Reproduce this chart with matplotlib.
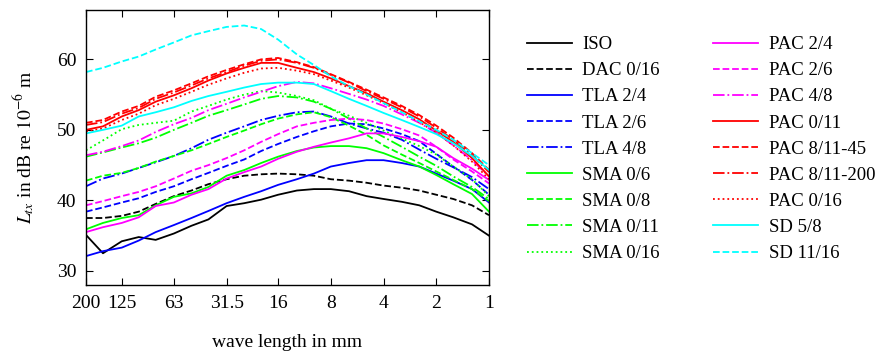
"""Texture level spectra of road surfaces vs. wave length."""
import numpy as np
import matplotlib.pyplot as plt
import matplotlib as mpl
from matplotlib.ticker import FixedLocator, FixedFormatter, NullLocator

mpl.rcParams.update({'font.family': 'Liberation Serif', 'font.size': 14,
                     'mathtext.fontset': 'stix'})

# third-octave band centre wave lengths in mm
wavelength = [200, 160, 125, 100, 80, 63, 50, 40, 31.5, 25, 20, 16,
              12.5, 10, 8, 6.3, 5, 4, 3.15, 2.5, 2, 1.6, 1.25, 1]

iso       = [35.1, 32.5, 34.2, 34.8, 34.4, 35.3, 36.4, 37.3, 39.2, 39.6, 40.1, 40.8,
             41.4, 41.6, 41.6, 41.3, 40.6, 40.2, 39.8, 39.3, 38.4, 37.6, 36.6, 35.0]
dac_0_16  = [37.5, 37.5, 37.8, 38.4, 39.5, 40.6, 41.4, 42.3, 43.0, 43.5, 43.7, 43.8,
             43.7, 43.5, 43.0, 42.8, 42.5, 42.1, 41.8, 41.4, 40.8, 40.2, 39.3, 37.9]
tla_2_4   = [32.1, 32.8, 33.3, 34.3, 35.5, 36.5, 37.5, 38.5, 39.6, 40.5, 41.3, 42.2,
             43.0, 43.8, 44.8, 45.3, 45.7, 45.7, 45.3, 44.8, 43.8, 42.8, 41.6, 39.7]
tla_2_6   = [38.4, 39.0, 39.7, 40.3, 41.2, 42.0, 43.0, 43.9, 44.9, 45.8, 47.0, 48.0,
             49.0, 49.8, 50.5, 50.9, 50.8, 50.2, 49.4, 48.4, 46.6, 44.8, 42.9, 40.8]
tla_4_8   = [42.0, 43.1, 43.8, 44.6, 45.4, 46.3, 47.4, 48.6, 49.6, 50.5, 51.4, 52.0,
             52.5, 52.6, 51.9, 50.9, 50.2, 49.6, 48.6, 47.2, 45.9, 44.7, 43.3, 41.6]
sma_0_6   = [35.9, 36.8, 37.5, 37.9, 39.3, 40.5, 41.0, 41.9, 43.5, 44.3, 45.3, 46.2,
             47.0, 47.5, 47.7, 47.7, 47.4, 46.7, 45.7, 44.8, 43.6, 42.3, 40.9, 38.4]
sma_0_8   = [42.8, 43.5, 43.9, 44.6, 45.5, 46.3, 47.1, 48.0, 49.0, 49.9, 50.8, 51.6,
             52.2, 52.5, 51.8, 50.6, 49.3, 47.8, 46.5, 45.3, 44.1, 42.9, 41.6, 39.9]
sma_0_11  = [46.2, 46.8, 47.5, 48.1, 48.9, 50.0, 51.0, 52.0, 52.8, 53.6, 54.4, 54.8,
             54.6, 54.0, 53.0, 51.6, 50.2, 49.0, 47.6, 46.2, 44.9, 43.4, 41.9, 40.2]
sma_0_16  = [47.1, 48.5, 50.1, 50.7, 51.0, 51.3, 52.6, 53.4, 54.3, 55.0, 55.5, 55.3,
             54.8, 54.2, 53.0, 52.0, 51.0, 49.9, 48.8, 47.7, 46.5, 44.8, 43.0, 40.6]
pac_2_4   = [35.5, 36.2, 36.8, 37.6, 39.2, 39.7, 40.8, 41.6, 43.1, 44.0, 44.8, 45.9,
             46.9, 47.6, 48.2, 48.8, 49.5, 49.5, 49.0, 48.4, 47.6, 46.0, 44.5, 42.9]
pac_2_6   = [39.3, 39.9, 40.6, 41.2, 42.0, 43.1, 44.2, 45.0, 46.0, 47.1, 48.3, 49.4,
             50.5, 51.0, 51.4, 51.6, 51.4, 50.9, 50.1, 49.2, 47.6, 45.8, 44.1, 42.4]
pac_4_8   = [46.4, 46.9, 47.7, 48.5, 49.7, 50.8, 51.7, 52.8, 53.7, 54.6, 55.4, 56.2,
             56.8, 56.6, 55.9, 55.1, 54.3, 53.4, 52.2, 51.0, 49.6, 47.8, 45.7, 43.4]
pac_0_11  = [50.0, 50.5, 51.9, 52.8, 54.0, 54.9, 55.9, 57.0, 58.0, 58.8, 59.5, 59.5,
             58.8, 58.2, 57.3, 56.2, 55.2, 54.0, 52.8, 51.5, 49.9, 48.3, 46.0, 43.4]
pac_8_11_45  = [51.0, 51.4, 52.6, 53.4, 54.7, 55.6, 56.6, 57.6, 58.5, 59.3, 60.0, 60.2,
                59.6, 58.9, 57.9, 56.8, 55.7, 54.6, 53.4, 52.1, 50.6, 48.9, 46.7, 44.3]
pac_8_11_200 = [50.7, 51.1, 52.3, 53.1, 54.4, 55.3, 56.3, 57.3, 58.2, 59.1, 59.8, 60.0,
                59.5, 58.8, 57.8, 56.7, 55.5, 54.4, 53.2, 51.9, 50.3, 48.6, 46.4, 44.0]
pac_0_16  = [49.8, 50.2, 51.4, 52.3, 53.5, 54.4, 55.4, 56.4, 57.3, 58.1, 58.7, 58.8,
             58.4, 57.9, 57.0, 56.0, 54.9, 53.8, 52.5, 51.1, 49.6, 47.8, 45.5, 43.0]
sd_5_8    = [49.5, 50.0, 50.6, 51.9, 52.5, 53.2, 54.1, 54.8, 55.4, 56.0, 56.5, 56.7,
             56.7, 56.5, 55.5, 54.4, 53.4, 52.4, 51.4, 50.4, 49.4, 48.1, 46.3, 44.3]
sd_11_16  = [58.2, 58.8, 59.7, 60.4, 61.4, 62.4, 63.4, 64.0, 64.6, 64.8, 64.3, 62.8,
             60.7, 59.2, 57.6, 56.2, 55.0, 53.8, 52.5, 51.2, 50.0, 48.6, 46.7, 45.0]

curves = [
    ('ISO', iso, 'k', '-'),
    ('DAC 0/16', dac_0_16, 'k', '--'),
    ('TLA 2/4', tla_2_4, '#0000ff', '-'),
    ('TLA 2/6', tla_2_6, '#0000ff', '--'),
    ('TLA 4/8', tla_4_8, '#0000ff', '-.'),
    ('SMA 0/6', sma_0_6, '#00ff00', '-'),
    ('SMA 0/8', sma_0_8, '#00ff00', '--'),
    ('SMA 0/11', sma_0_11, '#00ff00', '-.'),
    ('SMA 0/16', sma_0_16, '#00ff00', ':'),
    ('PAC 2/4', pac_2_4, '#ff00ff', '-'),
    ('PAC 2/6', pac_2_6, '#ff00ff', '--'),
    ('PAC 4/8', pac_4_8, '#ff00ff', '-.'),
    ('PAC 0/11', pac_0_11, '#ff0000', '-'),
    ('PAC 8/11-45', pac_8_11_45, '#ff0000', '--'),
    ('PAC 8/11-200', pac_8_11_200, '#ff0000', '-.'),
    ('PAC 0/16', pac_0_16, '#ff0000', ':'),
    ('SD 5/8', sd_5_8, '#00ffff', '-'),
    ('SD 11/16', sd_11_16, '#00ffff', '--'),
]

fig = plt.figure(figsize=(8.93, 3.52), dpi=100)
ax = fig.add_axes([86/893, 1-285/352, (489-86)/893, (285-10)/352])

for name, vals, c, ls in curves:
    ax.plot(wavelength, vals, color=c, linestyle=ls, linewidth=1.3, label=name)

ax.set_xscale('log')
ax.set_xlim(200, 1)
ax.set_ylim(28, 67)
xt = [200, 125, 63, 31.5, 16, 8, 4, 2, 1]
ax.xaxis.set_major_locator(FixedLocator(xt))
ax.xaxis.set_major_formatter(FixedFormatter(['200', '125', '63', '31.5', '16', '8', '4', '2', '1']))
ax.xaxis.set_minor_locator(NullLocator())
ax.set_yticks([30, 40, 50, 60])
ax.tick_params(direction='in', top=True, right=True, length=5, width=0.8, pad=7)
for s in ax.spines.values():
    s.set_linewidth(1.0)

ax.set_xlabel('wave length in mm', labelpad=16)
ax.set_ylabel(r'$L_{tx}$ in dB re $10^{-6}$ m', labelpad=14)

fig.legend(loc='upper left', bbox_to_anchor=(527/893, 1-36/352), ncol=2, frameon=False,
           fontsize=13.5, handlelength=2.4, handletextpad=0.55, labelspacing=0.48,
           columnspacing=2.85, borderaxespad=0, borderpad=0)

fig.savefig('out.png', dpi=100)
